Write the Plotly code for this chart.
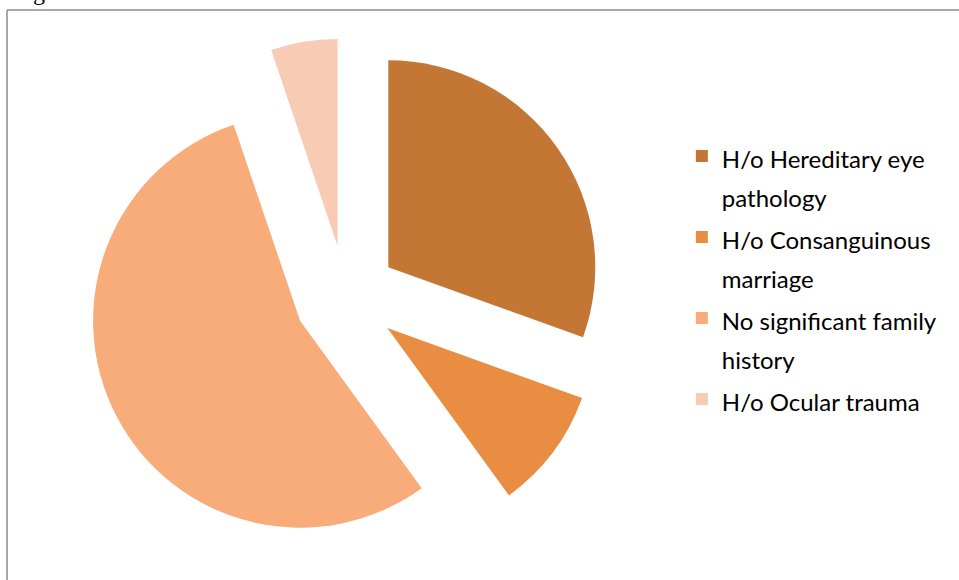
import plotly.graph_objects as go

# Family / ocular history breakdown (percent of cases)
labels = [
    "H/o Hereditary eye<br>pathology",
    "H/o Consanguinous<br>marriage",
    "No significant family<br>history",
    "H/o Ocular trauma",
]
values = [30.5, 9.5, 54.8, 5.2]
colors = ["#C47735", "#E98D42", "#F7AC7A", "#F8CBB5"]

LEGEND_TEXT_SIZE = 24
legend_names = [f'<span style="font-size:{LEGEND_TEXT_SIZE}px">{t}</span>' for t in labels]

fig = go.Figure(
    go.Pie(
        labels=legend_names,
        values=values,
        sort=False,
        direction="clockwise",
        rotation=0,
        pull=0.25,
        marker=dict(colors=colors, line=dict(width=0)),
        textinfo="none",
        hoverinfo="label+percent",
        domain=dict(x=[0.0910, 0.6306], y=[0.042, 0.934]),
    )
)

# Chart frame (top and left edges)
frame = dict(type="line", xref="paper", yref="paper",
             line=dict(color="#8C8C8C", width=1.5))
fig.add_shape(**frame, x0=7 / 959, y0=0, x1=7 / 959, y1=1 - 10 / 580)
fig.add_shape(**frame, x0=7 / 959, y0=1 - 10 / 580, x1=1, y1=1 - 10 / 580)

# Caption above the chart area
fig.add_annotation(
    text="Fig", xref="paper", yref="paper", x=0.0, y=1.0,
    xanchor="left", yanchor="bottom", xshift=11, yshift=-7, showarrow=False,
    font=dict(family="Liberation Serif", size=24, color="black"),
)

fig.update_layout(
    width=959,
    height=580,
    margin=dict(l=0, r=0, t=0, b=0),
    paper_bgcolor="white",
    plot_bgcolor="white",
    font=dict(family="Lato, Carlito, Calibri, sans-serif", color="black"),
    legend=dict(
        x=0.711, y=0.776, xanchor="left", yanchor="top",
        font=dict(size=30, color="black"),
        valign="top",
        bgcolor="rgba(0,0,0,0)",
        borderwidth=0,
        traceorder="normal",
    ),
)

fig.write_html("out.html")
